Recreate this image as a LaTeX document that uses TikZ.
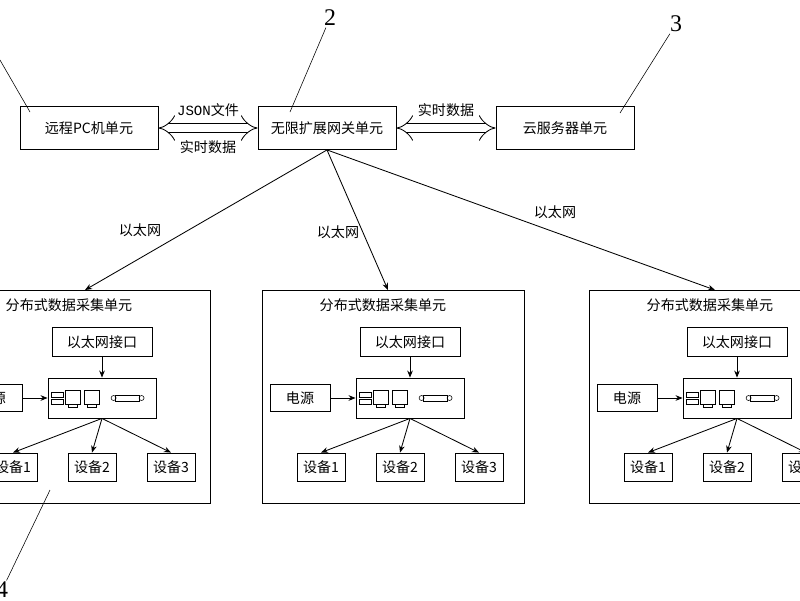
\documentclass[tikz,border=0pt]{standalone}
\usepackage{fontspec}
\setmainfont{Noto Sans CJK SC}
\usetikzlibrary{arrows.meta}
\newfontfamily\numfont{Liberation Serif}
\newfontfamily\monofont{Liberation Mono}

\begin{document}
\begin{tikzpicture}[
                x=0.025cm, y=-0.025cm,
                every node/.style={font=\fontsize{10}{12}\selectfont},
                box/.style={draw, semithick, inner sep=0pt},
                lbl/.style={inner sep=1pt},
                arrow/.style={-{Stealth[length=5pt,width=4pt]}, semithick},
                fat/.style={double, double distance=6pt, semithick, {Implies[]}-{Implies[]}},
                lead/.style={thin}
            ]
                \useasboundingbox (0,0) rectangle (800,600);
                % 上层单元
                \node[box, minimum width=138*0.025cm, minimum height=43*0.025cm] (pc) at (89,128) {远程PC机单元};
                \node[box, minimum width=138*0.025cm, minimum height=43*0.025cm] (gw) at (327,128) {无限扩展网关单元};
                \node[box, minimum width=138*0.025cm, minimum height=43*0.025cm] (cloud) at (565,128) {云服务器单元};
                \draw[fat] (pc) -- (gw);
                \draw[fat] (gw) -- (cloud);
                \node[lbl] (json) at (208,110) {{\monofont JSON}文件};
                \node[lbl] (rt1) at (208,147) {实时数据};
                \node[lbl] (rt2) at (446,110) {实时数据};
                % 编号
                \node[lbl, font=\numfont\fontsize{17}{17}\selectfont] (n2) at (330,18) {2};
                \node[lbl, font=\numfont\fontsize{17}{17}\selectfont] (n3) at (676,24) {3};
                \node[lbl, font=\numfont\fontsize{17}{17}\selectfont] (n4) at (2,590) {4};
                \coordinate (c1) at (0,60);
                \coordinate (c1e) at (30,112);
                \coordinate (c2e) at (290,112);
                \coordinate (c3e) at (620,113);
                \coordinate (c4) at (50,490);
                \draw[lead] (c1) -- (c1e);
                \draw[lead] (n2) -- (c2e);
                \draw[lead] (n3) -- (c3e);
                \draw[lead] (c4) -- (n4);
                % 分布式数据采集单元
                \foreach \u/\ux/\cx in {a/79/105, b/393/413, c/720/740} {
                    \node[box, minimum width=262*0.025cm, minimum height=213*0.025cm] (unit\u) at (\ux,396.5) {};
                    \node[lbl] (title\u) at (\ux-10,305) {分布式数据采集单元};
                    \node[box, minimum width=100*0.025cm, minimum height=29*0.025cm] (eth\u) at (\cx-3,342) {以太网接口};
                    \node[box, minimum width=108*0.025cm, minimum height=40*0.025cm] (dev\u) at (\cx-3,398) {};
                    % 装置图标
                    \draw ([shift={(4,-6)}]dev\u.west) rectangle +(12,5);
                    \draw ([shift={(4,1)}]dev\u.west) rectangle +(12,5);
                    \draw ([shift={(18,-8)}]dev\u.west) rectangle +(15,14);
                    \draw ([shift={(21,6)}]dev\u.west) rectangle +(9,3);
                    \draw ([shift={(37,-8)}]dev\u.west) rectangle +(15,14);
                    \draw ([shift={(40,6)}]dev\u.west) rectangle +(9,3);
                    \draw ([shift={(68,-3)}]dev\u.west) rectangle +(24,6);
                    \draw ([shift={(66,0)}]dev\u.west) circle (2.5);
                    \draw ([shift={(94,0)}]dev\u.west) circle (2.5);
                    \node[box, minimum width=60*0.025cm, minimum height=27*0.025cm] (pwr\u) at (\cx-113,398) {电源};
                    \node[box, minimum width=48*0.025cm, minimum height=28*0.025cm] (d1\u) at (\cx-92,467) {设备1};
                    \node[box, minimum width=48*0.025cm, minimum height=28*0.025cm] (d2\u) at (\cx-13,467) {设备2};
                    \node[box, minimum width=48*0.025cm, minimum height=28*0.025cm] (d3\u) at (\cx+66,467) {设备3};
                    \draw[arrow] (eth\u) -- (dev\u);
                    \draw[arrow] (pwr\u) -- (dev\u);
                    \draw[arrow] (dev\u.south) -- (d1\u.north);
                    \draw[arrow] (dev\u.south) -- (d2\u.north);
                    \draw[arrow] (dev\u.south) -- (d3\u.north);
                }
                % 以太网
                \coordinate (ta) at (85,290);
                \coordinate (tb) at (388,290);
                \coordinate (tc) at (715,290);
                \draw[arrow] (gw.south) -- (ta);
                \draw[arrow] (gw.south) -- (tb);
                \draw[arrow] (gw.south) -- (tc);
                \node[lbl] (e1) at (140,230) {以太网};
                \node[lbl] (e2) at (338,232) {以太网};
                \node[lbl] (e3) at (555,212) {以太网};
            \end{tikzpicture}
\end{document}
